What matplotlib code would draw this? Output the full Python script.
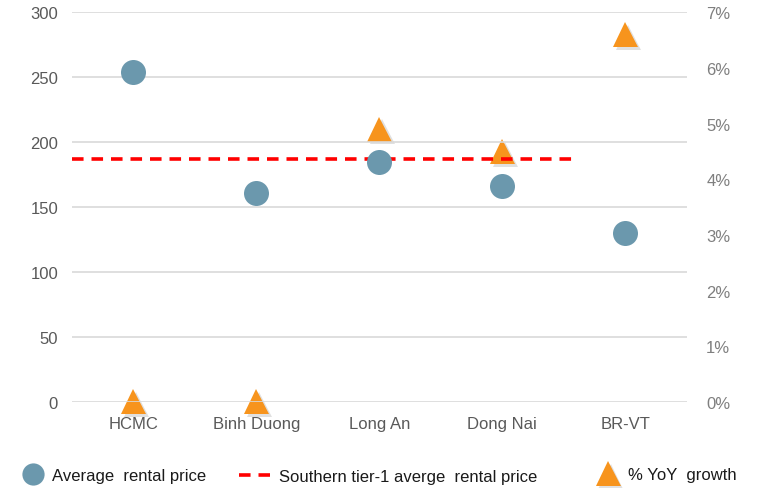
import matplotlib
matplotlib.use("Agg")
import matplotlib.pyplot as plt
import matplotlib.patheffects as pe
from matplotlib.lines import Line2D
from matplotlib.ticker import FuncFormatter, MultipleLocator

plt.rcParams["font.family"] = ["Liberation Sans", "DejaVu Sans"]

# Data
provinces = ["HCMC", "Binh Duong", "Long An", "Dong Nai", "BR-VT"]
avg_rental_price = [254, 161, 185, 166, 130]
yoy_growth_pct = [0.0, 0.0, 4.9, 4.5, 6.6]
tier1_avg_price = 187

circle_color = "#6b98ad"
tri_color = "#f7941d"
line_color = "#ff0000"
grid_color = "#d9d9d9"
fs = 12

fig = plt.figure(figsize=(7.58, 4.89), dpi=100)
ax = fig.add_axes([0.095, 0.176, 0.811, 0.797])
ax2 = ax.twinx()

x = list(range(len(provinces)))

ax.set_xlim(-0.5, len(provinces) - 0.5)
ax.set_ylim(0, 300)
ax2.set_ylim(0, 7)
ax.yaxis.set_major_locator(MultipleLocator(50))
ax2.yaxis.set_major_locator(MultipleLocator(1))
ax2.yaxis.set_major_formatter(FuncFormatter(lambda v, p: f"{v:.0f}%"))

ax.grid(axis="y", color=grid_color, linewidth=1.2)
ax.set_axisbelow(True)
for a in (ax, ax2):
    for s in a.spines.values():
        s.set_visible(False)
    a.tick_params(length=0)

ax.set_xticks(x)
ax.set_xticklabels(provinces)
ax.tick_params(axis="x", pad=10, labelsize=fs, labelcolor="#595959")
ax.tick_params(axis="y", pad=10, labelsize=fs, labelcolor="#595959")
ax2.tick_params(axis="y", pad=14, labelsize=fs, labelcolor="#7f7f7f")

# YoY growth triangles (secondary axis, drawn beneath)
shadow = [pe.SimplePatchShadow(offset=(2, -2), shadow_rgbFace="#9a9a9a", alpha=0.3), pe.Normal()]
ax2.plot(x, yoy_growth_pct, linestyle="none", marker="^", markersize=18,
         color=tri_color, markeredgewidth=0, path_effects=shadow, zorder=2, clip_on=False)

# Bring primary axis to front so circles and line sit over triangles
ax.set_zorder(ax2.get_zorder() + 1)
ax.patch.set_visible(False)

ax.plot([-0.5, 3.57], [tier1_avg_price, tier1_avg_price], linestyle=(0, (3.2, 2.2)),
        color=line_color, linewidth=2.6, zorder=3)
ax.plot(x, avg_rental_price, linestyle="none", marker="o", markersize=18,
        color=circle_color, markeredgewidth=0, zorder=4)

# Legend entries placed along the bottom
leg_kw = dict(frameon=False, fontsize=fs, handletextpad=0.5, borderaxespad=0,
              labelcolor="#1a1a1a")
h1 = Line2D([], [], linestyle="none", marker="o", markersize=16, color=circle_color,
            markeredgewidth=0)
h2 = Line2D([], [], linestyle=(0, (3.2, 2.2)), color=line_color, linewidth=2.6)
h3 = Line2D([], [], linestyle="none", marker="^", markersize=18, color=tri_color,
            markeredgewidth=0, path_effects=shadow)
l1 = fig.legend([h1], ["Average  rental price"], loc="center left",
                bbox_to_anchor=(0.022, 0.025), handlelength=1.2, **leg_kw)
l2 = fig.legend([h2], ["Southern tier-1 averge  rental price"], loc="center left",
                bbox_to_anchor=(0.306, 0.023), handlelength=1.9, **leg_kw)
l3 = fig.legend([h3], ["% YoY  growth"], loc="center left",
                bbox_to_anchor=(0.778, 0.027), handlelength=1.4, **leg_kw)

fig.savefig("out.png", dpi=100)
